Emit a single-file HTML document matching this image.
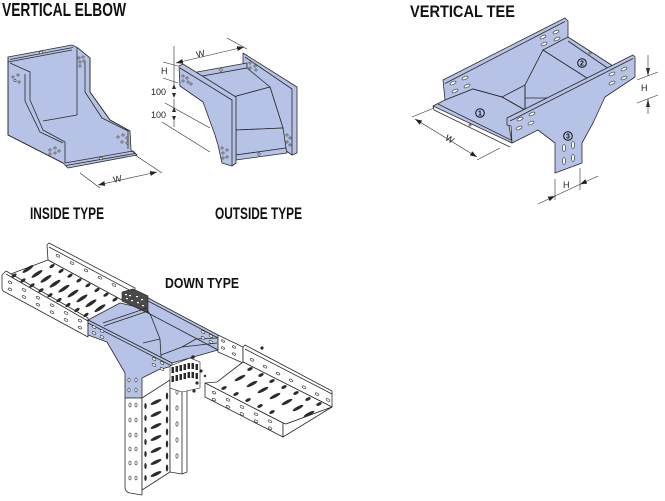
<!DOCTYPE html>
<html><head><meta charset="utf-8">
<style>
html,body{margin:0;padding:0;background:#fff;}
svg{display:block;}
</style></head><body>
<svg width="665" height="501" viewBox="0 0 665 501" xmlns="http://www.w3.org/2000/svg">
<defs>
<marker id="ar" viewBox="0 0 10 10" refX="10" refY="5" markerWidth="7" markerHeight="7" markerUnits="userSpaceOnUse" orient="auto-start-reverse"><path d="M0,1.5 L10,5 L0,8.5 Z" fill="#222"/></marker>
</defs>
<style>
.b{fill:#b6c2e6;stroke:#2b2b2b;stroke-width:.8;stroke-linejoin:round}
.bn{fill:#b6c2e6;stroke:none}
.w{fill:#fff;stroke:#2b2b2b;stroke-width:.8;stroke-linejoin:round}
.l{fill:none;stroke:#2b2b2b;stroke-width:.8;stroke-linejoin:round}
.t{fill:none;stroke:#2b2b2b;stroke-width:.6}
.h{fill:#fff;stroke:#2b2b2b;stroke-width:.6}
.d{fill:#2b2b2b}
.T{font-family:"Liberation Sans",Arial,sans-serif;font-weight:bold;fill:#111}
.s{font-family:"Liberation Sans",Arial,sans-serif;fill:#222;font-size:9px}
</style>
<rect width="665" height="501" fill="#fff"/>

<!-- Titles -->
<text class="T" x="2" y="16" font-size="18" textLength="124" lengthAdjust="spacingAndGlyphs">VERTICAL ELBOW</text>
<text class="T" x="410" y="17" font-size="17" textLength="105" lengthAdjust="spacingAndGlyphs">VERTICAL TEE</text>
<text class="T" x="30" y="219" font-size="17" textLength="74" lengthAdjust="spacingAndGlyphs">INSIDE TYPE</text>
<text class="T" x="215" y="219" font-size="17" textLength="87" lengthAdjust="spacingAndGlyphs">OUTSIDE TYPE</text>
<text class="T" x="165" y="288" font-size="15" textLength="74" lengthAdjust="spacingAndGlyphs">DOWN TYPE</text>

<!-- ============ INSIDE ELBOW ============ -->
<path class="b" d="M8,57 L72,45 L78,48 L90,58 L90,92 L110,120 L130,131 L131,150 L137,155 L68,168 L63,163 L8,135 Z"/>
<path class="l" d="M8,62 L72,50 M10,59.5 L73,47.5 M8,57 L8,135 L63,163 M77,48 L77,115 M43,121 L77,115"/>
<path class="l" d="M10,63 L30,72 L30,100 L43,130 L65,142 L65,150 M25,74 L25,101 L40,132 L63,143"/>
<path class="l" d="M78,48 L90,58 M85,62 L85,92 L102,118 L128,131 L128,149 M90,58 L90,92 L110,120 L130,131"/>
<path class="l" d="M65,150 L65,163 L133,151 L137,155 M66,165.5 L135,153.5"/>
<circle class="h" cx="41" cy="52.5" r="1.3"/><circle class="h" cx="101" cy="158.5" r="1.3"/>
<g class="h">
<circle cx="13" cy="77" r="1.1"/><circle cx="18" cy="75" r="1.1"/><circle cx="15" cy="80.5" r="1.1"/><circle cx="19" cy="82" r="1.1"/>
<circle cx="50" cy="150" r="1.1"/><circle cx="55" cy="148" r="1.1"/><circle cx="50" cy="154" r="1.1"/><circle cx="55" cy="153" r="1.1"/><circle cx="59" cy="151" r="1.1"/>
<circle cx="79" cy="58" r="1.1"/><circle cx="83" cy="57" r="1.1"/><circle cx="80" cy="62" r="1.1"/><circle cx="84" cy="61" r="1.1"/><circle cx="80" cy="66" r="1.1"/>
<circle cx="118" cy="137" r="1.1"/><circle cx="123" cy="135" r="1.1"/><circle cx="127" cy="138" r="1.1"/><circle cx="122" cy="142" r="1.1"/><circle cx="127" cy="143" r="1.1"/>
</g>
<path class="t" d="M80,173 L100,188 M135,155 L162,173"/>
<line class="t" x1="98" y1="185" x2="157" y2="172" marker-start="url(#ar)" marker-end="url(#ar)"/>
<text class="s" x="113" y="182" transform="rotate(-12 117 178)">W</text>

<!-- ============ OUTSIDE ELBOW ============ -->
<path class="b" d="M243,53 L297,87 L297,153 L292,155 L285,150 L283,128 L270,87 L247,70 L243,70 Z"/>
<path class="l" d="M245,57 L292,89 L292,155"/>
<path class="b" d="M197,72 L247,63 L247,68 L197,77 Z"/>
<circle class="h" cx="221" cy="70" r="1.2"/>
<path class="b" d="M197,77 L247,68 L270,87 L233,97 Z"/>
<path class="b" d="M233,97 L270,87 L283,128 L236,130 Z"/>
<path class="b" d="M236,130 L283,128 L286,148 L236,155 Z"/>
<path class="b" d="M236,155 L286,148 L287,153 L236,160 Z"/>
<circle class="h" cx="259" cy="154" r="1.2"/>
<path class="b" d="M179,66 L183,64 L236,97 L236,163 L232,166 L222,163 L218,145 L215,135 L203,102 L180,86 Z"/>
<path class="l" d="M180,68 L232,100 L232,166"/>
<g class="h">
<circle cx="183" cy="76" r="1.1"/><circle cx="187" cy="78" r="1.1"/><circle cx="183" cy="81" r="1.1"/><circle cx="188" cy="82" r="1.1"/><circle cx="191" cy="84" r="1.1"/>
<circle cx="222" cy="148" r="1.1"/><circle cx="227" cy="150" r="1.1"/><circle cx="223" cy="153" r="1.1"/><circle cx="227" cy="157" r="1.1"/><circle cx="223" cy="158" r="1.1"/>
<circle cx="250" cy="63" r="1.1"/><circle cx="255" cy="66" r="1.1"/><circle cx="250" cy="68" r="1.1"/><circle cx="256" cy="70" r="1.1"/>
<circle cx="287" cy="135" r="1.1"/><circle cx="290" cy="138" r="1.1"/><circle cx="287" cy="142" r="1.1"/><circle cx="290" cy="145" r="1.1"/>
</g>
<path class="t" d="M174,46 L174,85 M174,99 L174,108 M174,121 L174,127 M163,62 L178,66 M227,38 L247,49 M163,78 L178,83 M165,103 L210,128 M162,122 L210,152"/>
<line class="t" x1="176" y1="63" x2="244" y2="47" marker-start="url(#ar)" marker-end="url(#ar)"/>
<path class="d" d="M174,84 L172,89 L176,89 Z M174,98 L172,93 L176,93 Z M174,107 L172,112 L176,112 Z M174,121 L172,116 L176,116 Z"/>
<text class="s" x="196" y="57" transform="rotate(-13 200 53)">W</text>
<text class="s" x="161" y="74">H</text>
<text class="s" x="151" y="95">100</text>
<text class="s" x="151" y="118">100</text>

<!-- ============ VERTICAL TEE ============ -->
<path class="bn" d="M445,100 L473,89 L502,97 L525,85 L543,50 L568,40 L607,67 L587,78 L552,98 L525,110 L508,120 Z"/>
<path class="b" d="M443,80 L565,18 L568,21 L568,40 L543,50 L525,85 L502,97 L473,89 L445,100 Z"/>
<path class="l" d="M445,83.5 L565,21.5"/>
<path class="b" d="M433,106 L445,100 L473,89 L502,97 L525,110 L508,120 L512,143 Z"/>
<path class="l" d="M434,110 L510,147 M438,104 L511,140 M433,106 L434,110"/>
<circle class="h" cx="470" cy="125" r="1.1"/>
<path class="b" d="M525,85 L543,50 L568,40 L607,67 L587,78 L552,98 L525,110 Z"/>
<path class="l" d="M525,85 L525,110 M525,98 L552,98 L587,78 M543,50 L587,78 M473,89 L502,97 L525,110"/>
<path class="b" d="M543,50 L568,37 L613,66 L607,70 L587,78 Z"/>
<path class="l" d="M568,41 L609,69"/>
<circle class="h" cx="590" cy="53" r="1.1"/>
<path class="b" d="M507,118 L633,55 L635,57 L635,77 L605,97 L593,123 L582,143 L582,163 L555,173 L555,143 L538,130 L512,143 L511,126 L507,125 Z"/>
<path class="l" d="M510,121 L633,58.5"/>
<g class="h">
<ellipse cx="453" cy="83" rx="3.2" ry="1.4" transform="rotate(-25 453 83)"/>
<ellipse cx="465" cy="78" rx="3.2" ry="1.4" transform="rotate(-25 465 78)"/>
<ellipse cx="455" cy="91" rx="3.2" ry="1.4" transform="rotate(-25 455 91)"/>
<ellipse cx="467" cy="86" rx="3.2" ry="1.4" transform="rotate(-25 467 86)"/>
<ellipse cx="543" cy="37" rx="3.2" ry="1.4" transform="rotate(-25 543 37)"/>
<ellipse cx="556" cy="32" rx="3.2" ry="1.4" transform="rotate(-25 556 32)"/>
<ellipse cx="544" cy="44" rx="3.2" ry="1.4" transform="rotate(-25 544 44)"/>
<ellipse cx="557" cy="39" rx="3.2" ry="1.4" transform="rotate(-25 557 39)"/>
<ellipse cx="520" cy="119" rx="3.2" ry="1.4" transform="rotate(-25 520 119)"/>
<ellipse cx="532" cy="114" rx="3.2" ry="1.4" transform="rotate(-25 532 114)"/>
<ellipse cx="519" cy="128" rx="3.2" ry="1.4" transform="rotate(-25 519 128)"/>
<ellipse cx="531" cy="123" rx="3.2" ry="1.4" transform="rotate(-25 531 123)"/>
<ellipse cx="612" cy="74" rx="3.2" ry="1.4" transform="rotate(-25 612 74)"/>
<ellipse cx="624" cy="69" rx="3.2" ry="1.4" transform="rotate(-25 624 69)"/>
<ellipse cx="612" cy="83" rx="3.2" ry="1.4" transform="rotate(-25 612 83)"/>
<ellipse cx="624" cy="78" rx="3.2" ry="1.4" transform="rotate(-25 624 78)"/>
<ellipse cx="564" cy="148" rx="1.4" ry="3.5"/>
<ellipse cx="573" cy="145" rx="1.4" ry="3.5"/>
<ellipse cx="564" cy="161" rx="1.4" ry="3.5"/>
<ellipse cx="573" cy="158" rx="1.4" ry="3.5"/>
</g>
<g fill="none" stroke="#111" stroke-width="1">
<circle cx="480" cy="113" r="4.3"/><circle cx="582" cy="63" r="4.3"/><circle cx="568" cy="136" r="4.3"/>
</g>
<g class="T" font-size="7" text-anchor="middle">
<text x="480" y="115.5">1</text><text x="582" y="65.5">2</text><text x="568" y="138.5">3</text>
</g>
<path class="t" d="M648,55 L648,76 M648,99 L648,114 M637,80 L658,72 M637,103 L658,95"/>
<path class="d" d="M648,76 L646,68 L650,68 Z M648,99 L646,107 L650,107 Z"/>
<text class="s" x="641" y="91">H</text>
<path class="t" d="M555,179 L555,200 M580,168 L580,190 M555,196 L580,184.4"/>
<path class="t" d="M538,204 L555,196" marker-end="url(#ar)"/>
<path class="t" d="M598,176 L580,184.4" marker-end="url(#ar)"/>
<text class="s" x="563" y="188">H</text>
<path class="t" d="M412,117 L434,108 M477,160 L500,148"/>
<line class="t" x1="415" y1="119" x2="477" y2="157" marker-start="url(#ar)" marker-end="url(#ar)"/>
<text class="s" x="446" y="142" transform="rotate(31 450 138)">W</text>

<!-- ============ DOWN TYPE ============ -->
<!-- left tray -->
<path class="w" d="M47,245 L49,243 L135,288 L135,306 L133,306 L48,260 Z"/>
<path class="l" d="M49,247 L133,292"/>
<path class="w" d="M8,275 L48,260 L133,306 L88,320 Z"/>
<path class="w" d="M2,275 L6,271 L88,318 L88,337 L5,292 Q2,291 2,288 Z"/>
<path class="l" d="M6,274 L88,321"/>
<g class="h">
<ellipse cx="58" cy="255.8" rx="2" ry="1.1" transform="rotate(28 58 255.8)"/>
<ellipse cx="72" cy="263.1" rx="2" ry="1.1" transform="rotate(28 72 263.1)"/>
<ellipse cx="86" cy="270.4" rx="2" ry="1.1" transform="rotate(28 86 270.4)"/>
<ellipse cx="100" cy="277.7" rx="2" ry="1.1" transform="rotate(28 100 277.7)"/>
<ellipse cx="114" cy="285" rx="2" ry="1.1" transform="rotate(28 114 285)"/>
<ellipse cx="10" cy="282.4" rx="2" ry="1.1" transform="rotate(28 10 282.4)"/>
<ellipse cx="24" cy="290" rx="2" ry="1.1" transform="rotate(28 24 290)"/>
<ellipse cx="38" cy="297.7" rx="2" ry="1.1" transform="rotate(28 38 297.7)"/>
<ellipse cx="52" cy="305.3" rx="2" ry="1.1" transform="rotate(28 52 305.3)"/>
<ellipse cx="66" cy="313" rx="2" ry="1.1" transform="rotate(28 66 313)"/>
<ellipse cx="80" cy="320.6" rx="2" ry="1.1" transform="rotate(28 80 320.6)"/>
<ellipse cx="10" cy="289.4" rx="2" ry="1.1" transform="rotate(28 10 289.4)"/>
<ellipse cx="24" cy="297" rx="2" ry="1.1" transform="rotate(28 24 297)"/>
<ellipse cx="38" cy="304.7" rx="2" ry="1.1" transform="rotate(28 38 304.7)"/>
<ellipse cx="52" cy="312.3" rx="2" ry="1.1" transform="rotate(28 52 312.3)"/>
<ellipse cx="66" cy="320" rx="2" ry="1.1" transform="rotate(28 66 320)"/>
<ellipse cx="80" cy="327.6" rx="2" ry="1.1" transform="rotate(28 80 327.6)"/>
</g>
<g class="d">
<ellipse cx="28" cy="269" rx="6.5" ry="1.7" transform="rotate(-34 28 269)"/>
<ellipse cx="37" cy="273.9" rx="6.5" ry="1.7" transform="rotate(-34 37 273.9)"/>
<ellipse cx="46" cy="278.8" rx="6.5" ry="1.7" transform="rotate(-34 46 278.8)"/>
<ellipse cx="55" cy="283.7" rx="6.5" ry="1.7" transform="rotate(-34 55 283.7)"/>
<ellipse cx="64" cy="288.6" rx="6.5" ry="1.7" transform="rotate(-34 64 288.6)"/>
<ellipse cx="73" cy="293.5" rx="6.5" ry="1.7" transform="rotate(-34 73 293.5)"/>
<ellipse cx="82" cy="298.4" rx="6.5" ry="1.7" transform="rotate(-34 82 298.4)"/>
<ellipse cx="91" cy="303.3" rx="6.5" ry="1.7" transform="rotate(-34 91 303.3)"/>
<ellipse cx="100" cy="308.2" rx="6.5" ry="1.7" transform="rotate(-34 100 308.2)"/>
<ellipse cx="14" cy="275.6" rx="3" ry="1.5" transform="rotate(-34 14 275.6)"/>
<ellipse cx="23" cy="280.5" rx="3" ry="1.5" transform="rotate(-34 23 280.5)"/>
<ellipse cx="32" cy="285.4" rx="3" ry="1.5" transform="rotate(-34 32 285.4)"/>
<ellipse cx="41" cy="290.3" rx="3" ry="1.5" transform="rotate(-34 41 290.3)"/>
<ellipse cx="50" cy="295.2" rx="3" ry="1.5" transform="rotate(-34 50 295.2)"/>
<ellipse cx="59" cy="300.1" rx="3" ry="1.5" transform="rotate(-34 59 300.1)"/>
<ellipse cx="68" cy="305" rx="3" ry="1.5" transform="rotate(-34 68 305)"/>
<ellipse cx="77" cy="309.9" rx="3" ry="1.5" transform="rotate(-34 77 309.9)"/>
<ellipse cx="86" cy="314.9" rx="3" ry="1.5" transform="rotate(-34 86 314.9)"/>
<ellipse cx="52" cy="266.1" rx="3" ry="1.5" transform="rotate(-34 52 266.1)"/>
<ellipse cx="61" cy="271" rx="3" ry="1.5" transform="rotate(-34 61 271)"/>
<ellipse cx="70" cy="275.7" rx="3" ry="1.5" transform="rotate(-34 70 275.7)"/>
<ellipse cx="79" cy="280.4" rx="3" ry="1.5" transform="rotate(-34 79 280.4)"/>
<ellipse cx="88" cy="285.2" rx="3" ry="1.5" transform="rotate(-34 88 285.2)"/>
<ellipse cx="97" cy="290" rx="3" ry="1.5" transform="rotate(-34 97 290)"/>
<ellipse cx="106" cy="294.7" rx="3" ry="1.5" transform="rotate(-34 106 294.7)"/>
<ellipse cx="115" cy="299.5" rx="3" ry="1.5" transform="rotate(-34 115 299.5)"/>
</g>

<!-- blue tee -->
<path class="b" d="M133,290 L218,335 L218,350 L147,313 L133,306 Z"/>
<path class="l" d="M133,293 L218,338"/>
<path d="M122,292 L133,289 L148,296 L148,313 L133,306 L122,301 Z" fill="#4a4a4a" stroke="#222" stroke-width=".6"/>
<g fill="#fff"><rect x="125" y="294" width="2" height="1.2"/><rect x="129" y="295" width="2" height="1.2"/><rect x="136" y="296" width="2" height="1.2"/><rect x="141" y="299" width="2" height="1.2"/><rect x="126" y="298" width="2" height="1.2"/><rect x="137" y="302" width="2" height="1.2"/><rect x="142" y="305" width="2" height="1.2"/><rect x="131" y="300" width="2" height="1.2"/></g>
<path class="b" d="M88,320 L120,303 L133,306 L148,313 L218,350 L172,363 Z"/>
<path class="l" d="M103,323 L147,308 M104,326 L148,311 M148,311 L151,316 L160,339 L161,357 M143,343 L160,339 M161,355 L182,347 L217,343 M182,347 L196,339 L217,338"/>
<path class="b" d="M88,320 L172,363 L172,366 L158,370 L142,378 L142,398 L125,398 L125,373 L107,342 L88,335 Z"/>
<path class="l" d="M88,323 L172,366"/>
<g class="h">
<ellipse cx="94" cy="327" rx="2" ry="1.1" transform="rotate(28 94 327)"/>
<ellipse cx="102" cy="331" rx="2" ry="1.1" transform="rotate(28 102 331)"/>
<ellipse cx="94" cy="333" rx="2" ry="1.1" transform="rotate(28 94 333)"/>
<ellipse cx="102" cy="337" rx="2" ry="1.1" transform="rotate(28 102 337)"/>
<ellipse cx="154" cy="359" rx="2" ry="1.1" transform="rotate(28 154 359)"/>
<ellipse cx="162" cy="363" rx="2" ry="1.1" transform="rotate(28 162 363)"/>
<ellipse cx="154" cy="365" rx="2" ry="1.1" transform="rotate(28 154 365)"/>
<ellipse cx="162" cy="369" rx="2" ry="1.1" transform="rotate(28 162 369)"/>
<ellipse cx="203" cy="332" rx="2" ry="1.1" transform="rotate(28 203 332)"/>
<ellipse cx="211" cy="336" rx="2" ry="1.1" transform="rotate(28 211 336)"/>
<ellipse cx="203" cy="338" rx="2" ry="1.1" transform="rotate(28 203 338)"/>
<ellipse cx="211" cy="342" rx="2" ry="1.1" transform="rotate(28 211 342)"/>
<ellipse cx="129" cy="380" rx="1.1" ry="2"/><ellipse cx="136" cy="380" rx="1.1" ry="2"/>
<ellipse cx="129" cy="390" rx="1.1" ry="2"/><ellipse cx="136" cy="390" rx="1.1" ry="2"/>
</g>

<!-- leg -->
<path class="w" d="M125,398 L142,398 L142,495 L130,493 Q125,492 125,487 Z"/>
<path class="w" d="M142,398 L170,380 L170,472 L142,490 Z"/>
<path class="w" d="M170,380 L187,377 L187,472 L182,474 L170,472 Z"/>
<path class="l" d="M182,378 L182,474"/>
<g class="d">
<ellipse cx="156" cy="402" rx="6" ry="1.6" transform="rotate(-25 156 402)"/>
<ellipse cx="156" cy="414" rx="6" ry="1.6" transform="rotate(-25 156 414)"/>
<ellipse cx="156" cy="426" rx="6" ry="1.6" transform="rotate(-25 156 426)"/>
<ellipse cx="156" cy="438" rx="6" ry="1.6" transform="rotate(-25 156 438)"/>
<ellipse cx="156" cy="450" rx="6" ry="1.6" transform="rotate(-25 156 450)"/>
<ellipse cx="156" cy="462" rx="6" ry="1.6" transform="rotate(-25 156 462)"/>
<ellipse cx="156" cy="474" rx="6" ry="1.6" transform="rotate(-25 156 474)"/>
<ellipse cx="167" cy="396" rx="1.2" ry="3.5"/><ellipse cx="167" cy="408" rx="1.2" ry="3.5"/>
<ellipse cx="167" cy="420" rx="1.2" ry="3.5"/><ellipse cx="167" cy="432" rx="1.2" ry="3.5"/>
<ellipse cx="167" cy="444" rx="1.2" ry="3.5"/><ellipse cx="167" cy="456" rx="1.2" ry="3.5"/>
<ellipse cx="167" cy="468" rx="1.2" ry="3.5"/>
<ellipse cx="145.5" cy="406" rx="1.2" ry="3"/><ellipse cx="145.5" cy="418" rx="1.2" ry="3"/>
<ellipse cx="145.5" cy="430" rx="1.2" ry="3"/><ellipse cx="145.5" cy="442" rx="1.2" ry="3"/>
<ellipse cx="145.5" cy="454" rx="1.2" ry="3"/><ellipse cx="145.5" cy="466" rx="1.2" ry="3"/>
<ellipse cx="145.5" cy="478" rx="1.2" ry="3"/>
</g>
<g class="h">
<ellipse cx="130" cy="405" rx="1.1" ry="2"/><ellipse cx="136" cy="405" rx="1.1" ry="2"/>
<ellipse cx="130" cy="420" rx="1.1" ry="2"/><ellipse cx="136" cy="420" rx="1.1" ry="2"/>
<ellipse cx="130" cy="435" rx="1.1" ry="2"/><ellipse cx="136" cy="435" rx="1.1" ry="2"/>
<ellipse cx="130" cy="449" rx="1.1" ry="2"/><ellipse cx="136" cy="449" rx="1.1" ry="2"/>
<ellipse cx="130" cy="463" rx="1.1" ry="2"/><ellipse cx="136" cy="463" rx="1.1" ry="2"/>
<ellipse cx="130" cy="478" rx="1.1" ry="2"/><ellipse cx="136" cy="478" rx="1.1" ry="2"/>
<ellipse cx="177" cy="392" rx="1.1" ry="2.2"/><ellipse cx="177" cy="408" rx="1.1" ry="2.2"/>
<ellipse cx="177" cy="424" rx="1.1" ry="2.2"/><ellipse cx="177" cy="440" rx="1.1" ry="2.2"/>
<ellipse cx="177" cy="456" rx="1.1" ry="2.2"/>
</g>

<!-- grid splice plate -->
<path d="M170,366 L190,358 L200,362 L200,388 L182,392 L170,388 Z" fill="#fff" stroke="#222" stroke-width=".6"/>
<g class="d">
<rect x="171.5" y="367" width="2.5" height="6"/><rect x="175.5" y="366" width="2.5" height="6"/><rect x="179.5" y="365" width="2.5" height="6"/><rect x="183.5" y="364" width="2.5" height="6"/><rect x="187.5" y="363" width="2.5" height="6"/><rect x="191.5" y="363" width="2.5" height="6"/><rect x="195.5" y="364" width="2.5" height="6"/>
<rect x="171.5" y="376" width="2.5" height="6"/><rect x="175.5" y="375" width="2.5" height="6"/><rect x="179.5" y="374" width="2.5" height="6"/><rect x="183.5" y="373" width="2.5" height="6"/><rect x="187.5" y="372" width="2.5" height="6"/><rect x="191.5" y="372" width="2.5" height="6"/><rect x="195.5" y="373" width="2.5" height="6"/>
<circle cx="193" cy="357" r="1.8"/><circle cx="201" cy="371" r="1.6"/><circle cx="197" cy="383" r="1.6"/><circle cx="194" cy="391" r="1.6"/><circle cx="205" cy="376" r="1.2"/><circle cx="262" cy="348" r="1.6"/>
</g>

<!-- right connector plate -->
<path class="w" d="M218,335 L243,347 L243,363 L218,352 Z"/>
<g class="h">
<ellipse cx="223" cy="341" rx="1.8" ry="1" transform="rotate(28 223 341)"/>
<ellipse cx="234" cy="347" rx="1.8" ry="1" transform="rotate(28 234 347)"/>
<ellipse cx="223" cy="348" rx="1.8" ry="1" transform="rotate(28 223 348)"/>
<ellipse cx="234" cy="354" rx="1.8" ry="1" transform="rotate(28 234 354)"/>
</g>

<!-- right tray -->
<path class="w" d="M243,347 L245,345 L332,391 L332,407 L243,362 Z"/>
<path class="l" d="M245,349 L332,394"/>
<path class="w" d="M205,383 L217,382 L243,362 L332,407 L286,424 L283,423 Z"/>
<path class="w" d="M205,383 L283,423 L283,437 L205,397 Z"/>
<path class="w" d="M283,423 L286,424 L332,407 L283,437 Z"/>
<g class="h">
<ellipse cx="252" cy="359.8" rx="2" ry="1.1" transform="rotate(28 252 359.8)"/>
<ellipse cx="265" cy="366.7" rx="2" ry="1.1" transform="rotate(28 265 366.7)"/>
<ellipse cx="278" cy="373.6" rx="2" ry="1.1" transform="rotate(28 278 373.6)"/>
<ellipse cx="291" cy="380.4" rx="2" ry="1.1" transform="rotate(28 291 380.4)"/>
<ellipse cx="304" cy="387.3" rx="2" ry="1.1" transform="rotate(28 304 387.3)"/>
<ellipse cx="317" cy="394.2" rx="2" ry="1.1" transform="rotate(28 317 394.2)"/>
<ellipse cx="328" cy="400" rx="2" ry="1.1" transform="rotate(28 328 400)"/>
<ellipse cx="214" cy="392.6" rx="2" ry="1.1" transform="rotate(28 214 392.6)"/>
<ellipse cx="228" cy="399.8" rx="2" ry="1.1" transform="rotate(28 228 399.8)"/>
<ellipse cx="242" cy="407" rx="2" ry="1.1" transform="rotate(28 242 407)"/>
<ellipse cx="256" cy="414.2" rx="2" ry="1.1" transform="rotate(28 256 414.2)"/>
<ellipse cx="270" cy="421.3" rx="2" ry="1.1" transform="rotate(28 270 421.3)"/>
<ellipse cx="214" cy="399.6" rx="2" ry="1.1" transform="rotate(28 214 399.6)"/>
<ellipse cx="228" cy="406.8" rx="2" ry="1.1" transform="rotate(28 228 406.8)"/>
<ellipse cx="242" cy="414" rx="2" ry="1.1" transform="rotate(28 242 414)"/>
<ellipse cx="256" cy="421.2" rx="2" ry="1.1" transform="rotate(28 256 421.2)"/>
<ellipse cx="270" cy="428.3" rx="2" ry="1.1" transform="rotate(28 270 428.3)"/>
</g>
<g class="d">
<ellipse cx="240" cy="378" rx="6" ry="1.6" transform="rotate(-28 240 378)"/>
<ellipse cx="252" cy="384" rx="6" ry="1.6" transform="rotate(-28 252 384)"/>
<ellipse cx="263" cy="390" rx="6" ry="1.6" transform="rotate(-28 263 390)"/>
<ellipse cx="275" cy="396" rx="6" ry="1.6" transform="rotate(-28 275 396)"/>
<ellipse cx="287" cy="402" rx="6" ry="1.6" transform="rotate(-28 287 402)"/>
<ellipse cx="298" cy="408" rx="6" ry="1.6" transform="rotate(-28 298 408)"/>
<ellipse cx="309" cy="414" rx="6" ry="1.6" transform="rotate(-28 309 414)"/>
<ellipse cx="250" cy="369" rx="3" ry="1.5" transform="rotate(-28 250 369)"/>
<ellipse cx="261" cy="375" rx="3" ry="1.5" transform="rotate(-28 261 375)"/>
<ellipse cx="272" cy="381" rx="3" ry="1.5" transform="rotate(-28 272 381)"/>
<ellipse cx="284" cy="387" rx="3" ry="1.5" transform="rotate(-28 284 387)"/>
<ellipse cx="296" cy="393" rx="3" ry="1.5" transform="rotate(-28 296 393)"/>
<ellipse cx="308" cy="399" rx="3" ry="1.5" transform="rotate(-28 308 399)"/>
<ellipse cx="319" cy="404" rx="3" ry="1.5" transform="rotate(-28 319 404)"/>
<ellipse cx="224" cy="388" rx="3" ry="1.5" transform="rotate(-28 224 388)"/>
<ellipse cx="236" cy="394" rx="3" ry="1.5" transform="rotate(-28 236 394)"/>
<ellipse cx="248" cy="400" rx="3" ry="1.5" transform="rotate(-28 248 400)"/>
<ellipse cx="260" cy="406" rx="3" ry="1.5" transform="rotate(-28 260 406)"/>
<ellipse cx="272" cy="412" rx="3" ry="1.5" transform="rotate(-28 272 412)"/>
</g>
</svg>
</body></html>
